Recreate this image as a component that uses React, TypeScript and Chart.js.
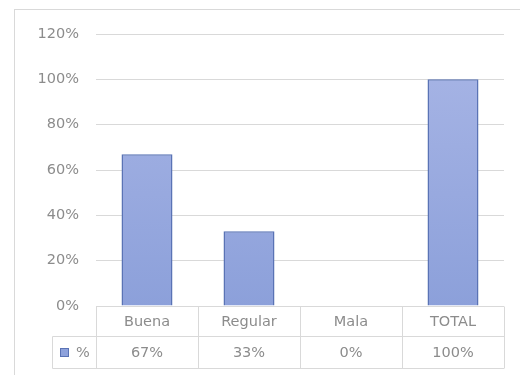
import React, { useEffect, useRef } from "react";
import { Chart, registerables } from "chart.js";

Chart.register(...registerables);

const categories = ["Buena", "Regular", "Mala", "TOTAL"];
const values = [0.67, 0.33, 0, 1.0];
const seriesName = "%";
const yMax = 1.2;
const yStep = 0.2;

const FONT = "'DejaVu Sans', sans-serif";
const FONT_SIZE = 14.5;
const TEXT = "#8C8C8C";
const GRID = "#D9D9D9";
const BAR_BORDER = "#5A73B5";

const fmt = (v: number) => `${Math.round(v * 100)}%`;

const tablePlugin = {
  id: "dataTable",
  beforeDraw(chart: any) {
    const ctx = chart.ctx;
    ctx.save();
    ctx.strokeStyle = GRID;
    ctx.lineWidth = 1;
    ctx.strokeRect(14.5, 9.5, 600, 600);
    ctx.restore();
  },
  afterDraw(chart: any) {
    const ctx = chart.ctx;
    const area = chart.chartArea;
    const x = chart.scales.x;
    const n = categories.length;
    const colW = (area.right - area.left) / n;
    const top = Math.round(area.bottom) + 0.5;
    const mid = top + 30;
    const bot = top + 62;
    const legendLeft = 52.5;
    ctx.save();
    ctx.strokeStyle = GRID;
    ctx.lineWidth = 1;
    ctx.beginPath();
    ctx.moveTo(area.left, top);
    ctx.lineTo(area.right, top);
    ctx.moveTo(legendLeft, mid);
    ctx.lineTo(area.right, mid);
    ctx.moveTo(legendLeft, bot);
    ctx.lineTo(area.right, bot);
    for (let i = 0; i <= n; i++) {
      const xx = Math.round(area.left + i * colW) + 0.5;
      ctx.moveTo(xx, top);
      ctx.lineTo(xx, bot);
    }
    ctx.moveTo(legendLeft, mid);
    ctx.lineTo(legendLeft, bot);
    ctx.stroke();

    ctx.fillStyle = TEXT;
    ctx.font = `${FONT_SIZE}px ${FONT}`;
    ctx.textAlign = "center";
    ctx.textBaseline = "middle";
    categories.forEach((c, i) => {
      const cx = x.getPixelForValue(i);
      ctx.fillText(c, cx, (top + mid) / 2 + 1);
      ctx.fillText(fmt(values[i]), cx, (mid + bot) / 2 + 1);
    });
    // legend key
    const ky = (mid + bot) / 2;
    ctx.fillStyle = "#8EA2DC";
    ctx.fillRect(60, ky - 4.5, 9, 9);
    ctx.strokeStyle = BAR_BORDER;
    ctx.strokeRect(60.5, ky - 4, 8, 8);
    ctx.fillStyle = TEXT;
    ctx.textAlign = "left";
    ctx.fillText(seriesName, 76, ky + 1);
    ctx.restore();
  },
};

export default function App() {
  const ref = useRef<HTMLCanvasElement>(null);
  useEffect(() => {
    if (!ref.current) return;
    const chart = new Chart(ref.current, {
      type: "bar",
      data: {
        labels: categories,
        datasets: [
          {
            label: seriesName,
            data: values,
            backgroundColor: (c: any) => {
              const ch = c.chart;
              const a = ch.chartArea;
              if (!a) return "#9AABE0";
              const g = ch.ctx.createLinearGradient(0, a.top, 0, a.bottom);
              g.addColorStop(0, "#A9B6E6");
              g.addColorStop(1, "#8CA0DA");
              return g;
            },
            borderColor: BAR_BORDER,
            borderWidth: 1.5,
            barPercentage: 0.5,
            categoryPercentage: 1,
          },
        ],
      },
      options: {
        animation: false,
        responsive: false,
        maintainAspectRatio: false,
        layout: { padding: { left: 14, right: 16, top: 34, bottom: 69 } },
        plugins: { legend: { display: false }, tooltip: { enabled: false } },
        scales: {
          x: {
            display: false,
          },
          y: {
            min: 0,
            max: yMax,
            afterFit: (s: any) => {
              s.width = 82;
            },
            border: { display: false },
            grid: { color: GRID, drawTicks: false },
            ticks: {
              stepSize: yStep,
              padding: 17,
              color: TEXT,
              font: { family: FONT, size: FONT_SIZE },
              callback: (v: any) => fmt(Number(v)),
            },
          },
        },
      },
      plugins: [tablePlugin],
    });
    return () => chart.destroy();
  }, []);
  return (
    <div style={{ position: "absolute", left: 0, top: 0, width: 520, height: 375, background: "#fff" }}>
      <canvas ref={ref} width={520} height={375} style={{ width: 520, height: 375 }} />
    </div>
  );
}
